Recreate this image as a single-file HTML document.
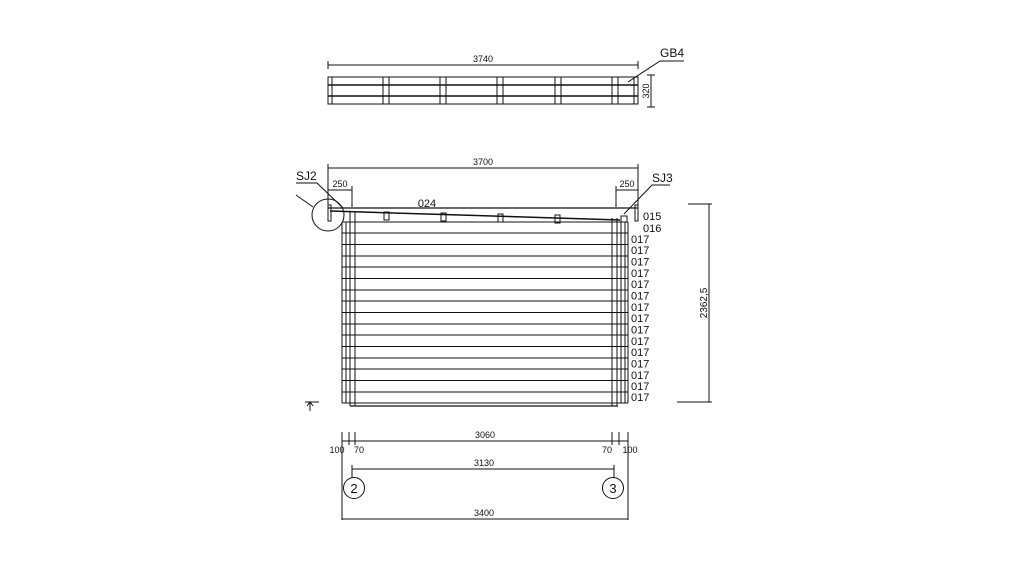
<!DOCTYPE html>
<html><head><style>html,body{margin:0;padding:0;background:#fff;}svg{display:block}text{font-family:"Liberation Sans",sans-serif;fill:#111}</style></head>
<body>
<svg width="1024" height="576" viewBox="0 0 1024 576" xmlns="http://www.w3.org/2000/svg" stroke="#111" fill="none" stroke-width="1">
<!-- Top beam -->
<line x1="328" y1="65" x2="638" y2="65"/>
<line x1="328" y1="61" x2="328" y2="69"/><line x1="638" y1="61" x2="638" y2="69"/>
<text x="483" y="62" font-size="9" text-anchor="middle" stroke="none">3740</text>
<rect x="328" y="77" width="310" height="27"/>
<line x1="328" y1="85" x2="638" y2="85" stroke-width="1.6"/>
<line x1="328" y1="96" x2="638" y2="96" stroke-width="1.6"/>
<g>
<line x1="332" y1="77" x2="332" y2="104"/><line x1="634" y1="77" x2="634" y2="104"/>
<line x1="383" y1="77" x2="383" y2="104"/><line x1="389" y1="77" x2="389" y2="104"/>
<line x1="440" y1="77" x2="440" y2="104"/><line x1="446" y1="77" x2="446" y2="104"/>
<line x1="497" y1="77" x2="497" y2="104"/><line x1="503" y1="77" x2="503" y2="104"/>
<line x1="555" y1="77" x2="555" y2="104"/><line x1="561" y1="77" x2="561" y2="104"/>
<line x1="612" y1="77" x2="612" y2="104"/><line x1="618" y1="77" x2="618" y2="104"/>
</g>
<line x1="651" y1="75" x2="651" y2="107"/><line x1="647" y1="75" x2="655" y2="75"/><line x1="647" y1="107" x2="655" y2="107"/>
<text x="0" y="0" font-size="9" text-anchor="middle" stroke="none" transform="translate(649,91) rotate(-90)">320</text>
<polyline points="628,82 660,61 684,61"/>
<text x="660" y="57" font-size="12" stroke="none">GB4</text>

<!-- Main elevation dims -->
<line x1="328" y1="168" x2="638" y2="168"/>
<line x1="328" y1="164" x2="328" y2="210"/><line x1="638" y1="164" x2="638" y2="210"/>
<text x="483" y="165" font-size="9" text-anchor="middle" stroke="none">3700</text>
<line x1="328" y1="190" x2="352" y2="190"/><line x1="352" y1="186" x2="352" y2="207"/>
<text x="340" y="187" font-size="9" text-anchor="middle" stroke="none">250</text>
<line x1="616" y1="190" x2="638" y2="190"/><line x1="616" y1="186" x2="616" y2="207"/>
<text x="627" y="187" font-size="9" text-anchor="middle" stroke="none">250</text>
<text x="296" y="180" font-size="12" stroke="none">SJ2</text>
<polyline points="296,183 317,183 343,208"/>
<text x="652" y="182" font-size="12" stroke="none">SJ3</text>
<polyline points="670,185 652,185 624,214"/>
<circle cx="328" cy="215" r="16"/>
<line x1="296" y1="195" x2="313" y2="207"/>

<!-- Roof -->
<line x1="328" y1="208" x2="638" y2="208" stroke-width="1.3"/>
<line x1="330" y1="211" x2="620" y2="220" stroke-width="1.5"/>
<rect x="328" y="205" width="3" height="16" stroke-width="1"/>
<rect x="635" y="205" width="3" height="16" stroke-width="1"/>
<text x="427" y="207" font-size="11" text-anchor="middle" stroke="none">024</text>
<rect x="384" y="212" width="5" height="8"/><rect x="441" y="213" width="5" height="8"/>
<rect x="498" y="214" width="5" height="8"/><rect x="555" y="215" width="5" height="8"/>
<rect x="621" y="216" width="6" height="6"/>

<!-- Wall boards -->
<g>
<line x1="342" y1="222" x2="628" y2="222"/>
<line x1="342" y1="233" x2="628" y2="233"/>
<line x1="342" y1="244.5" x2="628" y2="244.5"/>
<line x1="342" y1="256" x2="628" y2="256"/>
<line x1="342" y1="267" x2="628" y2="267"/>
<line x1="342" y1="278.5" x2="628" y2="278.5"/>
<line x1="342" y1="290" x2="628" y2="290"/>
<line x1="342" y1="301" x2="628" y2="301"/>
<line x1="342" y1="312.5" x2="628" y2="312.5"/>
<line x1="342" y1="324" x2="628" y2="324"/>
<line x1="342" y1="335" x2="628" y2="335"/>
<line x1="342" y1="346.5" x2="628" y2="346.5"/>
<line x1="342" y1="358" x2="628" y2="358"/>
<line x1="342" y1="369" x2="628" y2="369"/>
<line x1="342" y1="380.5" x2="628" y2="380.5"/>
<line x1="342" y1="392" x2="628" y2="392"/>
<line x1="342" y1="403" x2="628" y2="403"/><line x1="350" y1="406" x2="618" y2="406" stroke-width="1.3"/>
</g>
<g>
<line x1="342" y1="222" x2="342" y2="403"/><line x1="346" y1="222" x2="346" y2="403"/>
<line x1="350" y1="212" x2="350" y2="406"/><line x1="355" y1="212" x2="355" y2="406"/>
<line x1="612" y1="218" x2="612" y2="406"/><line x1="617" y1="218" x2="617" y2="406"/>
<line x1="621" y1="222" x2="621" y2="403"/><line x1="625" y1="222" x2="625" y2="403"/><line x1="628" y1="222" x2="628" y2="403"/>
</g>
<!-- labels -->
<g font-size="11" stroke="none">
<text x="643" y="220" stroke="none">015</text>
<text x="643" y="232" stroke="none">016</text>
<text x="631" y="243" stroke="none">017</text>
<text x="631" y="254" stroke="none">017</text>
<text x="631" y="265.5" stroke="none">017</text>
<text x="631" y="277" stroke="none">017</text>
<text x="631" y="288" stroke="none">017</text>
<text x="631" y="299.5" stroke="none">017</text>
<text x="631" y="311" stroke="none">017</text>
<text x="631" y="322" stroke="none">017</text>
<text x="631" y="333.5" stroke="none">017</text>
<text x="631" y="345" stroke="none">017</text>
<text x="631" y="356" stroke="none">017</text>
<text x="631" y="367.5" stroke="none">017</text>
<text x="631" y="379" stroke="none">017</text>
<text x="631" y="390" stroke="none">017</text>
<text x="631" y="401" stroke="none">017</text>
</g>
<line x1="688" y1="204" x2="712" y2="204"/><line x1="677" y1="402" x2="712" y2="402"/>
<line x1="709" y1="204" x2="709" y2="402"/>
<text x="0" y="0" font-size="10" text-anchor="middle" stroke="none" transform="translate(707,303) rotate(-90)">2362,5</text>

<!-- arrow mark -->
<line x1="305" y1="402" x2="319" y2="402"/><line x1="310" y1="402" x2="310" y2="411"/>
<polyline points="307,406 310,402 313,406"/>

<!-- Bottom dims -->
<line x1="342" y1="441" x2="628" y2="441"/>
<line x1="342" y1="432" x2="342" y2="520"/><line x1="628" y1="432" x2="628" y2="520"/>
<line x1="349" y1="432" x2="349" y2="445"/><line x1="355" y1="432" x2="355" y2="445"/>
<line x1="612" y1="432" x2="612" y2="445"/><line x1="619" y1="432" x2="619" y2="445"/>
<text x="485" y="438" font-size="9" text-anchor="middle" stroke="none">3060</text>
<text x="337" y="453" font-size="9" text-anchor="middle" stroke="none">100</text>
<text x="359" y="453" font-size="9" text-anchor="middle" stroke="none">70</text>
<text x="607" y="453" font-size="9" text-anchor="middle" stroke="none">70</text>
<text x="630" y="453" font-size="9" text-anchor="middle" stroke="none">100</text>
<line x1="352" y1="469" x2="614" y2="469"/>
<line x1="352" y1="465" x2="352" y2="478"/><line x1="614" y1="465" x2="614" y2="478"/>
<text x="484" y="466" font-size="9" text-anchor="middle" stroke="none">3130</text>
<circle cx="354" cy="488" r="10.5"/><text x="354" y="493" font-size="13" text-anchor="middle" stroke="none">2</text>
<circle cx="613" cy="488" r="10.5"/><text x="613" y="493" font-size="13" text-anchor="middle" stroke="none">3</text>
<line x1="342" y1="519" x2="628" y2="519"/>
<text x="484" y="516" font-size="9" text-anchor="middle" stroke="none">3400</text>
</svg>
</body></html>
